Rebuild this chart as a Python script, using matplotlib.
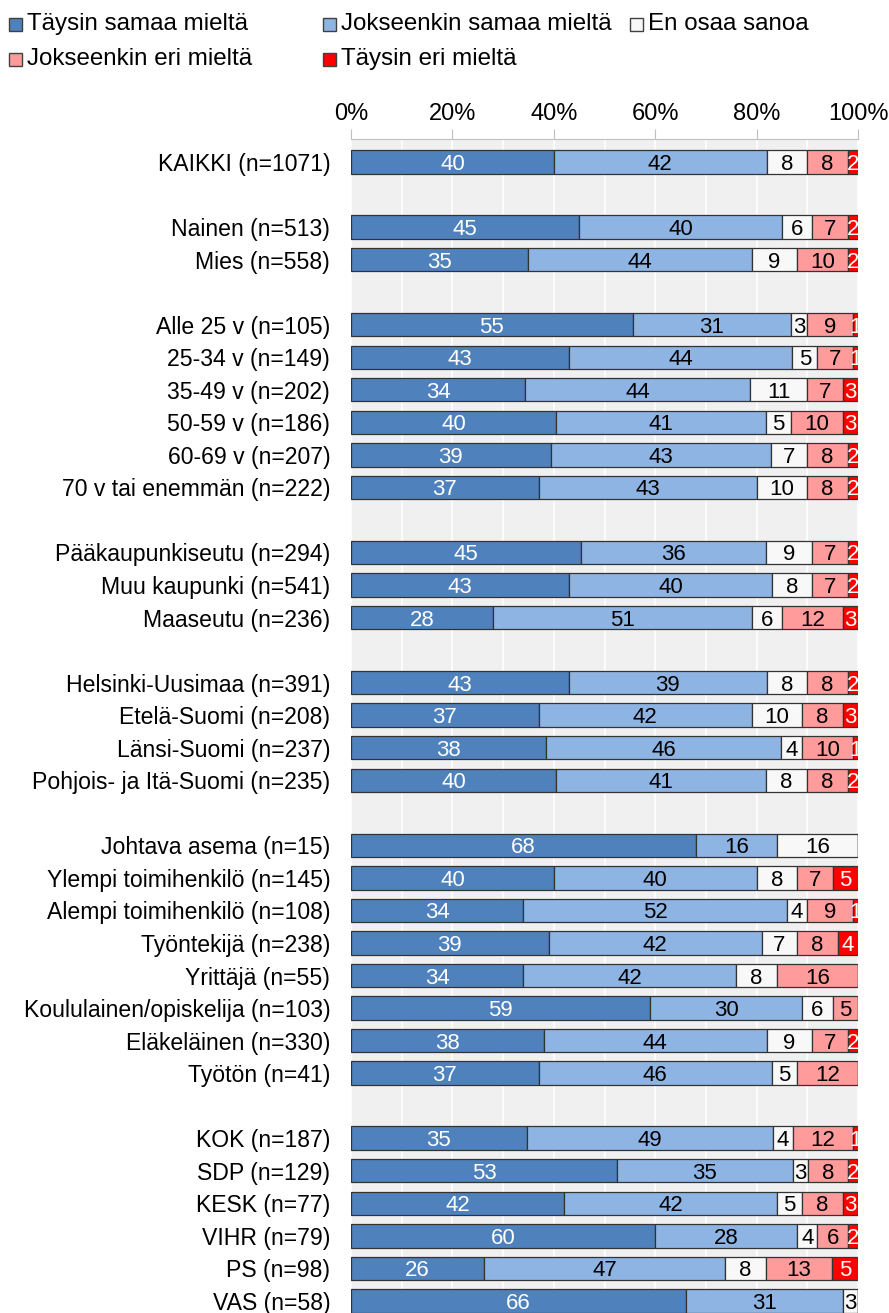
import numpy as np
import matplotlib
matplotlib.use("Agg")
import matplotlib.pyplot as plt
from matplotlib.patches import Rectangle

plt.rcParams['font.family'] = ['Liberation Sans', 'DejaVu Sans']

# 数据
series_names = ["Täysin samaa mieltä", "Jokseenkin samaa mieltä", "En osaa sanoa",
                "Jokseenkin eri mieltä", "Täysin eri mieltä"]
categories = ["KAIKKI (n=1071)",
              "Nainen (n=513)", "Mies (n=558)",
              "Alle 25 v (n=105)", "25-34 v (n=149)", "35-49 v (n=202)",
              "50-59 v (n=186)", "60-69 v (n=207)", "70 v tai enemmän (n=222)",
              "Pääkaupunkiseutu (n=294)", "Muu kaupunki (n=541)", "Maaseutu (n=236)",
              "Helsinki-Uusimaa (n=391)", "Etelä-Suomi (n=208)", "Länsi-Suomi (n=237)",
              "Pohjois- ja Itä-Suomi (n=235)",
              "Johtava asema (n=15)", "Ylempi toimihenkilö (n=145)",
              "Alempi toimihenkilö (n=108)", "Työntekijä (n=238)", "Yrittäjä (n=55)",
              "Koululainen/opiskelija (n=103)", "Eläkeläinen (n=330)", "Työtön (n=41)",
              "KOK (n=187)", "SDP (n=129)", "KESK (n=77)", "VIHR (n=79)",
              "PS (n=98)", "VAS (n=58)"]
group = [0, 1, 1, 2, 2, 2, 2, 2, 2, 3, 3, 3, 4, 4, 4, 4,
         5, 5, 5, 5, 5, 5, 5, 5, 6, 6, 6, 6, 6, 6]
taysin_samaa = [40, 45, 35, 55, 43, 34, 40, 39, 37, 45, 43, 28, 43, 37, 38, 40,
                68, 40, 34, 39, 34, 59, 38, 37, 35, 53, 42, 60, 26, 66]
jokseenkin_samaa = [42, 40, 44, 31, 44, 44, 41, 43, 43, 36, 40, 51, 39, 42, 46, 41,
                    16, 40, 52, 42, 42, 30, 44, 46, 49, 35, 42, 28, 47, 31]
en_osaa = [8, 6, 9, 3, 5, 11, 5, 7, 10, 9, 8, 6, 8, 10, 4, 8,
           16, 8, 4, 7, 8, 6, 9, 5, 4, 3, 5, 4, 8, 3]
jokseenkin_eri = [8, 7, 10, 9, 7, 7, 10, 8, 8, 7, 7, 12, 8, 8, 10, 8,
                  0, 7, 9, 8, 16, 5, 7, 12, 12, 8, 8, 6, 13, 0]
taysin_eri = [2, 2, 2, 1, 1, 3, 3, 2, 2, 2, 2, 3, 2, 3, 1, 2,
              0, 5, 1, 4, 0, 0, 2, 0, 1, 2, 3, 2, 5, 0]

colors = ["#4f81bd", "#8eb4e3", "#f8f8f8", "#ff9b9b", "#ff0000"]
text_colors = ["white", "black", "black", "black", "white"]

W, H = 889, 1313
fig = plt.figure(figsize=(W / 100, H / 100), dpi=100)

# 坐标轴位置 (像素)
ax_left, ax_right, ax_top = 351, 858, 139
pitch = 32.54
ax = fig.add_axes([ax_left / W, 0, (ax_right - ax_left) / W, (H - ax_top) / H])
ax.set_facecolor("#f0f0f0")

values = np.array([taysin_samaa, jokseenkin_samaa, en_osaa, jokseenkin_eri, taysin_eri], dtype=float)
shares = values / values.sum(axis=0) * 100
ypos = np.arange(len(categories)) + np.array(group)

left = np.zeros(len(categories))
for k in range(5):
    ax.barh(ypos, shares[k], left=left, height=0.72, color=colors[k],
            edgecolor="#333333", linewidth=0.9, zorder=3)
    for y, l, w, v in zip(ypos, left, shares[k], values[k]):
        if v > 0:
            ax.text(l + w / 2, y, "%d" % v, ha="center", va="center_baseline",
                    fontsize=16, color=text_colors[k], zorder=4)
    left += shares[k]

ax.set_xlim(0, 100)
top_off = (162 - ax_top) / pitch
ax.set_ylim(-top_off + (H - ax_top) / pitch, -top_off)

ax.set_xticks(np.arange(0, 101, 10), minor=True)
ax.grid(axis="x", which="both", color="white", linewidth=1.2, zorder=1)
ax.set_axisbelow(True)
ax.xaxis.tick_top()
ax.set_xticks(np.arange(0, 101, 20))
ax.set_xticklabels(["%d%%" % t for t in range(0, 101, 20)], fontsize=17)
ax.tick_params(axis="x", which="major", direction="out", length=7, color="#bfbfbf", pad=3)
ax.tick_params(axis="x", which="minor", length=0)
ax.set_yticks(ypos)
ax.set_yticklabels(categories, fontsize=16.6)
ax.tick_params(axis="y", length=0, pad=15)
for s in ["left", "right", "bottom"]:
    ax.spines[s].set_visible(False)
ax.spines["top"].set_color("#bfbfbf")

# 图例
legend_pos = [(9, 18), (323, 18), (630, 18), (9, 53), (323, 53)]
for k, (px, py) in enumerate(legend_pos):
    fig.add_artist(Rectangle((px / W, 1 - (py + 13) / H), 13 / W, 13 / H,
                             transform=fig.transFigure, facecolor=colors[k],
                             edgecolor="#404040", linewidth=1))
    fig.text((px + 18) / W, 1 - (py + 12) / H, series_names[k], fontsize=17.4,
             ha="left", va="baseline")

fig.savefig("out.png", dpi=100)
